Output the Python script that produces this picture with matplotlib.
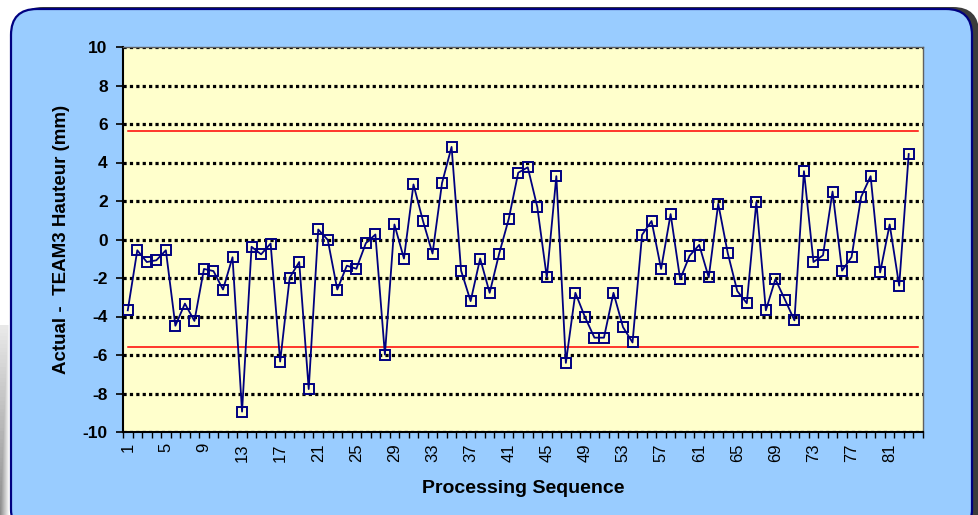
import matplotlib
matplotlib.use("Agg")
import matplotlib.pyplot as plt
from matplotlib.patches import FancyBboxPatch
from matplotlib.transforms import IdentityTransform
import numpy as np

plt.rcParams['font.family'] = ['Liberation Sans', 'DejaVu Sans']
plt.rcParams['axes.unicode_minus'] = False

# values (83 samples, 84 categories on the axis)
values = [-3.68, -0.56, -1.17, -1.08, -0.56, -4.48, -3.33, -4.23, -1.53, -1.64,
          -2.60, -0.92, -8.94, -0.38, -0.77, -0.21, -6.34, -1.99, -1.17, -7.77,
          0.52, -0.02, -2.60, -1.36, -1.52, -0.19, 0.26, -5.98, 0.78, -0.99,
          2.86, 0.96, -0.73, 2.94, 4.81, -1.62, -3.20, -0.99, -2.77, -0.73,
          1.06, 3.47, 3.75, 1.69, -1.97, 3.29, -6.41, -2.77, -4.02, -5.10,
          -5.10, -2.77, -4.55, -5.35, 0.24, 0.96, -1.53, 1.32, -2.06, -0.84,
          -0.28, -1.97, 1.86, -0.71, -2.68, -3.31, 1.95, -3.68, -2.06, -3.12,
          -4.20, 3.55, -1.17, -0.82, 2.49, -1.62, -0.91, 2.21, 3.29, -1.71,
          0.78, -2.40, 4.44]
n_categories = 84
ucl = 5.65
lcl = -5.6
tick_labels = [str(i) for i in range(1, n_categories, 4)]

W, H = 979, 515
fig = plt.figure(figsize=(W / 100, H / 100), dpi=100)
fig.patch.set_facecolor('white')

# shadow + rounded blue panel (pixel coords)
shadow = FancyBboxPatch((17, -20), 962, 528, boxstyle="round,pad=0,rounding_size=26",
                        transform=IdentityTransform(), facecolor='#3c3c3c',
                        edgecolor='none', zorder=0)
panel = FancyBboxPatch((11, -20), 961, 526, boxstyle="round,pad=0,rounding_size=26",
                       transform=IdentityTransform(), facecolor='#99ccff',
                       edgecolor='#000080', linewidth=1.6, zorder=1)
fig.patches.extend([shadow, panel])

# grey fade on the far left
gax = fig.add_axes([0, 0, 10 / W, 190 / H])
grad = np.linspace(0, 1, 10)[None, :] * np.ones((50, 1))
fade = np.linspace(0.2, 1, 50)[:, None] * np.ones((1, 10))
gax.imshow(0.55 + 0.45 * np.maximum(grad, 1 - fade), cmap='gray', vmin=0, vmax=1,
           aspect='auto', origin='upper')
gax.axis('off')

ax = fig.add_axes([123 / W, (H - 432) / H, 800 / W, 385 / H])
ax.set_facecolor('#ffffcc')
ax.set_zorder(3)

x_cat = np.arange(1, n_categories + 1)
x = np.arange(1, len(values) + 1)

ax.plot(x_cat, np.full(n_categories, ucl), color='#ff0000', lw=1.1, zorder=3)
ax.plot(x_cat, np.full(n_categories, lcl), color='#ff0000', lw=1.1, zorder=3)
ax.plot(x, values, color='#000080', lw=1.3, marker='s', ms=6.5,
        markerfacecolor='none', markeredgecolor='#000080', mew=1.4, zorder=4)

ax.set_xlim(0.5, n_categories + 0.5)
ax.set_ylim(-10, 10)
ax.set_yticks(np.arange(-10, 11, 2))
ax.set_yticklabels([str(v) for v in range(-10, 11, 2)], fontsize=12.5, fontweight='bold')
ax.tick_params(axis='y', direction='out', length=5, width=1.2, pad=6)

ax.set_xticks(np.arange(1, n_categories, 4))
ax.set_xticklabels(tick_labels, rotation=90, fontsize=12)
ax.set_xticks(np.arange(0.5, n_categories + 1, 1), minor=True)
ax.tick_params(axis='x', which='major', length=0, pad=8)
ax.tick_params(axis='x', which='minor', direction='out', length=4, width=1)

ax.set_axisbelow(True)
ax.yaxis.grid(True, color='black', linestyle=(0, (1, 1)), linewidth=2.3)

for side in ['left', 'bottom']:
    ax.spines[side].set_color('black')
    ax.spines[side].set_linewidth(1.5)
for side in ['top', 'right']:
    ax.spines[side].set_color('#606060')
    ax.spines[side].set_linewidth(1)

ax.set_ylabel('Actual -  TEAM3 Hauteur (mm)', fontsize=13.5, fontweight='bold', labelpad=9)
ax.set_xlabel('Processing Sequence', fontsize=14, fontweight='bold', labelpad=13)

fig.savefig('out.png', dpi=100)
